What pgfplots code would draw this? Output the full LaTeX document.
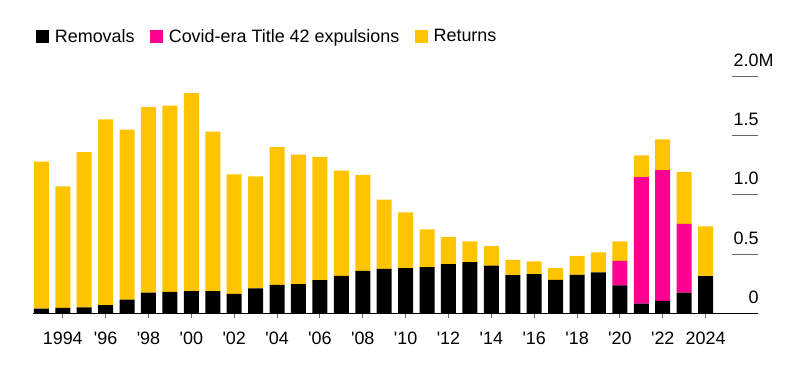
\documentclass[border=0pt]{standalone}
\usepackage{pgfplots}
\pgfplotsset{compat=1.18}
\usepackage{pgfplotstable}
\usepackage{fontspec}
\setmainfont{Liberation Sans}[Ligatures=TeXOff]
\definecolor{remc}{HTML}{000000}
\definecolor{expc}{HTML}{FF0090}
\definecolor{retc}{HTML}{FFC400}
\definecolor{gridc}{HTML}{666666}
\pgfplotstableread{
year r e ret
1993 0.039 0 1.244
1994 0.045 0 1.027
1995 0.050 0 1.312
1996 0.070 0 1.570
1997 0.115 0 1.438
1998 0.174 0 1.570
1999 0.182 0 1.573
2000 0.188 0 1.674
2001 0.188 0 1.348
2002 0.165 0 1.009
2003 0.210 0 0.947
2004 0.240 0 1.164
2005 0.247 0 1.095
2006 0.281 0 1.042
2007 0.317 0 0.890
2008 0.359 0 0.812
2009 0.376 0 0.584
2010 0.382 0 0.471
2011 0.390 0 0.320
2012 0.415 0 0.230
2013 0.432 0 0.177
2014 0.404 0 0.163
2015 0.323 0 0.129
2016 0.331 0 0.107
2017 0.283 0 0.099
2018 0.325 0 0.160
2019 0.345 0 0.171
2020 0.236 0.207 0.166
2021 0.081 1.070 0.183
2022 0.106 1.104 0.261
2023 0.174 0.581 0.441
2024 0.314 0 0.421
}\datatable
\begin{document}
\begin{tikzpicture}
\path[use as bounding box] (0bp,0bp) rectangle (792bp,378bp);
\begin{axis}[
  at={(33bp,64.7bp)}, anchor=south west,
  scale only axis, width=725.3bp, height=236.6bp,
  ybar stacked, bar width=0.7,
  xmin=1992.61, xmax=2026.46,
  ymin=0, ymax=2.0,
  axis x line*=bottom, axis y line*=right,
  x axis line style={black, line width=1bp, -},
  y axis line style={draw=none},
  xtick={1994,1996,...,2024},
  xticklabels={1994,'96,'98,'00,'02,'04,'06,'08,'10,'12,'14,'16,'18,'20,'22,2024},
  ytick={0,0.5,1,1.5,2},
  yticklabels={0,0.5,1.0,1.5,2.0\rlap{M}},
  tick align=outside, major tick length=5bp,
  xtick style={gridc, line width=1bp},
  ytick style={draw=none},
  /pgf/number format/assume math mode=true,
  tick label style={font=\fontsize{18}{21}\selectfont},
  xticklabel style={anchor=base, inner sep=0pt, yshift=-26.5bp},
  yticklabel style={anchor=base east, inner sep=0pt, xshift=-4.5bp, yshift=10bp},
  clip=false,
  legend columns=-1,
  legend style={draw=none, fill=none, at={(0,1)}, anchor=south west,
    xshift=3bp, yshift=33bp, inner sep=0pt,
    nodes={inner sep=0pt},
    font=\fontsize{18}{21}\selectfont,
    /tikz/every odd column/.append style={column sep=5.7bp},
    /tikz/every even column/.append style={column sep=15.5bp}},
  legend image code/.code={\fill[#1] (0bp,-6.5bp) rectangle (13bp,6.5bp);},
]
\addplot[fill=remc, draw=none] table[x=year, y=r] {\datatable};
\addplot[fill=expc, draw=none] table[x=year, y=e] {\datatable};
\addplot[fill=retc, draw=none] table[x=year, y=ret] {\datatable};
\legend{Removals, Covid-era Title 42 expulsions, Returns}
\draw[gridc, line width=1bp] (axis cs:2025.22,0.5) -- (axis cs:2026.46,0.5);
\draw[gridc, line width=1bp] (axis cs:2025.22,1.0) -- (axis cs:2026.46,1.0);
\draw[gridc, line width=1bp] (axis cs:2025.22,1.5) -- (axis cs:2026.46,1.5);
\draw[gridc, line width=1bp] (axis cs:2025.22,2.0) -- (axis cs:2026.46,2.0);
\end{axis}
\end{tikzpicture}
\end{document}
